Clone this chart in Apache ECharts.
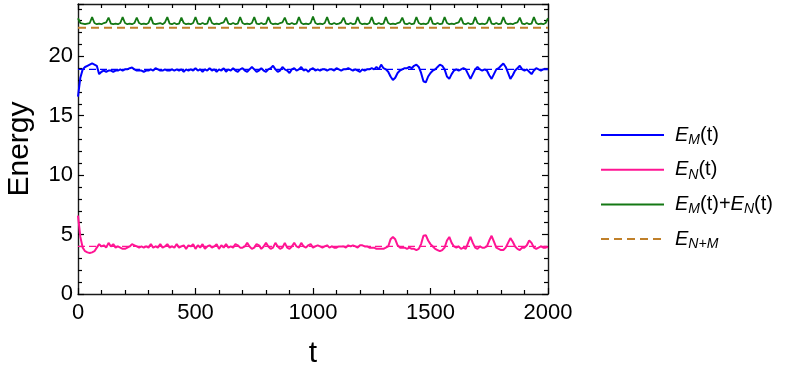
<!DOCTYPE html>
<html>
<head>
<meta charset="utf-8">
<script src="https://cdn.jsdelivr.net/npm/echarts@6/dist/echarts.min.js"></script>
<style>
html,body{margin:0;padding:0;background:#fff;}
#c{width:789px;height:375px;}
</style>
</head>
<body>
<div id="c"></div>
<script>
// sample step in t
var tStep = 10;
// E_M(t), one value every 10 time units from t=0 to t=2000
var eM = [
16.6,18.2,18.9,19.1,19.2,19.3,19.4,19.3,19.2,18.5,
18.7,18.8,18.7,18.8,18.8,18.7,18.8,18.8,18.9,18.8,
18.9,18.9,19.0,19.05,18.9,18.8,18.8,18.8,18.7,18.8,
18.8,18.9,18.8,19.0,18.9,18.8,18.8,18.9,18.8,18.8,
18.9,18.8,18.9,18.8,18.9,18.7,18.9,18.8,18.9,18.8,
19.0,18.8,18.9,18.7,18.9,18.8,19.0,18.8,18.9,18.7,
18.9,18.8,19.0,18.7,18.9,18.8,19.0,18.8,18.7,18.9,
19.0,18.8,18.7,18.9,19.1,18.9,18.7,18.8,19.0,18.8,
18.7,18.9,19.0,19.2,18.9,18.7,18.8,19.1,18.9,18.8,
18.6,18.9,19.0,18.8,18.9,19.1,18.8,18.9,18.7,18.9,
19.0,18.8,18.9,18.8,18.9,18.9,18.8,18.9,18.9,18.8,
19.0,18.9,18.8,18.9,18.9,19.0,18.9,18.8,18.9,18.8,
18.7,18.9,18.8,18.9,18.9,19.0,18.9,19.1,18.9,19.3,
19.0,18.9,18.7,18.3,18.0,18.2,18.6,18.8,18.9,19.0,
19.0,19.1,19.0,19.2,19.3,19.1,18.6,17.9,17.8,18.3,
18.6,18.8,18.9,19.1,19.3,19.2,18.9,18.3,18.1,18.5,
18.8,18.9,18.8,18.9,19.0,18.9,18.5,18.1,18.5,18.9,
19.1,18.9,18.8,18.9,18.8,18.4,18.1,18.5,18.9,19.0,
19.2,19.4,19.1,18.6,18.1,18.4,18.8,19.0,19.2,18.9,
18.8,18.9,18.7,18.5,18.8,19.0,18.9,18.8,18.9,18.9,
18.9
];
// E_N(t)
var eN = [
6.6,4.8,3.9,3.6,3.5,3.45,3.5,3.6,3.9,4.2,
4.0,4.1,3.9,4.3,4.0,4.2,3.9,4.0,3.9,3.8,
3.8,3.9,4.0,4.2,4.1,4.0,3.9,4.0,3.9,4.0,
3.9,4.2,3.9,4.0,3.9,4.2,3.9,4.0,4.2,3.9,
4.0,3.9,4.2,3.9,4.0,4.1,3.8,4.1,4.0,4.2,
3.8,4.1,3.9,4.2,3.8,4.0,4.1,3.9,4.0,4.2,
3.8,4.1,3.9,4.2,3.9,4.0,3.9,4.2,4.1,3.9,
3.9,4.0,4.3,4.0,3.8,3.9,4.2,4.1,3.8,4.0,
4.3,4.0,3.8,3.9,4.3,4.0,3.8,3.9,4.3,3.9,
3.8,4.0,4.3,4.0,3.9,4.3,4.0,3.9,4.1,4.2,
3.9,4.0,4.1,4.0,3.9,4.0,4.1,3.9,4.0,3.9,
3.9,4.0,4.0,4.0,3.9,4.1,4.0,4.1,4.0,3.9,
4.1,4.1,4.0,4.0,3.9,3.9,3.9,3.8,3.8,3.8,
3.8,3.9,4.0,4.6,4.8,4.6,4.1,3.9,3.9,3.9,
3.8,3.9,3.8,3.8,3.7,3.8,4.2,4.9,4.95,4.5,
4.2,4.0,3.8,3.7,3.6,3.7,3.9,4.5,4.8,4.3,
4.0,3.9,4.0,3.8,3.9,3.8,4.3,4.8,4.3,3.9,
3.8,4.0,3.9,3.9,4.0,4.5,4.9,4.4,3.9,3.8,
3.7,3.7,3.9,4.3,4.7,4.4,4.0,3.8,3.7,3.9,
3.9,4.1,4.5,4.3,3.9,3.8,3.9,4.0,3.9,3.9,
3.95
];
// E_M(t)+E_N(t)
var eSum = [
23.2,22.8,22.75,22.7,22.75,22.8,23.3,22.8,22.7,22.75,
22.7,22.8,22.85,23.25,22.75,22.7,22.75,22.7,22.8,23.3,
22.8,22.7,22.75,22.7,22.8,23.25,22.8,22.7,22.75,22.7,
22.8,23.3,22.75,22.7,22.75,22.8,22.7,22.85,23.3,22.75,
22.7,22.8,22.7,22.75,23.25,22.8,22.7,22.75,22.7,22.8,
23.3,22.75,22.7,22.8,22.7,22.75,23.3,22.8,22.7,22.75,
22.7,22.8,22.85,23.25,22.75,22.7,22.8,22.7,22.75,23.3,
22.8,22.7,22.75,22.7,22.8,23.3,22.75,22.7,22.8,22.7,
22.75,23.3,22.8,22.7,22.75,22.7,22.8,22.85,23.25,22.75,
22.7,22.8,22.7,22.75,23.3,22.8,22.7,22.75,22.7,22.8,
23.35,22.8,22.7,22.75,22.7,22.8,23.3,22.75,22.7,22.8,
22.7,22.75,22.85,23.25,22.75,22.7,22.8,22.7,22.75,23.3,
22.8,22.7,22.75,22.7,22.8,23.3,22.75,22.7,22.8,22.7,
22.75,23.3,22.8,22.7,22.75,22.7,22.8,22.85,23.25,22.75,
22.7,22.8,22.7,22.75,23.3,22.8,22.7,22.75,22.7,22.8,
23.3,22.75,22.7,22.8,22.7,22.75,23.3,22.8,22.7,22.75,
22.7,22.8,22.85,23.25,22.75,22.7,22.8,22.7,22.75,23.3,
22.8,22.7,22.75,22.7,22.8,23.3,22.75,22.7,22.8,22.7,
22.75,23.3,22.8,22.7,22.75,22.7,22.8,22.85,23.25,22.75,
22.7,22.8,22.7,22.75,23.3,22.8,22.7,22.75,22.7,22.8,
23.2
];
var eMmean = 18.9;
var eNmean = 4.0;
var eNM = 22.4;
var tRange = [0, 2000];
var xTicks = [0, 500, 1000, 1500, 2000];
var yTicks = [0, 5, 10, 15, 20];
var legendNames = ['E_M(t)', 'E_N(t)', 'E_M(t)+E_N(t)', 'E_N+M'];

function pairs(arr){ return arr.map(function(v,i){ return [i*tStep, v]; }); }
function flat(v){ return [[tRange[0], v],[tRange[1], v]]; }

var FONT = 'Liberation Sans, Arial, sans-serif';
var richStyles = {
  f: {fontFamily: FONT, fontSize: 20, fontStyle: 'italic', color:'#000', padding:[0,0,0,6]},
  e: {fontFamily: FONT, fontSize: 20, fontStyle: 'italic', color:'#000'},
  s: {fontFamily: FONT, fontSize: 14, fontStyle: 'italic', color:'#000', padding:[10,0,0,0]},
  n: {fontFamily: FONT, fontSize: 20, color:'#000'}
};
var legendRich = {
  'E_M(t)': '{f|E}{s|M}{n|(t)}',
  'E_N(t)': '{f|E}{s|N}{n|(t)}',
  'E_M(t)+E_N(t)': '{f|E}{s|M}{n|(t)+}{e|E}{s|N}{n|(t)}',
  'E_N+M': '{f|E}{s|N+M}'
};

var axisLine = {show:true, onZero:false, lineStyle:{color:'#1a1a1a', width:1.4}};
var tickStyle = {color:'#000', width:1.2};
function xAx(pos, showLabel){
  return {type:'value', position:pos, min:tRange[0], max:tRange[1], interval:500,
    axisLine:axisLine, axisTick:{show:true, inside:true, length:6, lineStyle:tickStyle},
    minorTick:{show:true, splitNumber:5, length:4, lineStyle:tickStyle},
    splitLine:{show:false},
    axisLabel:{show:showLabel, fontFamily:FONT, fontSize:22, color:'#000', margin:8,
      formatter:function(v){ return xTicks.indexOf(v)>=0 ? String(v) : ''; }},
    name: showLabel ? 't' : '', nameLocation:'middle', nameGap:45,
    nameTextStyle:{fontFamily:FONT, fontSize:30, color:'#000'}
  };
}
function yAx(pos, showLabel){
  return {type:'value', position:pos, min:0, max:24.4, interval:5,
    axisLine:axisLine, axisTick:{show:true, inside:true, length:6, lineStyle:tickStyle},
    minorTick:{show:true, splitNumber:5, length:4, lineStyle:tickStyle},
    splitLine:{show:false},
    axisLabel:{show:showLabel, fontFamily:FONT, fontSize:22, color:'#000', margin:5,
      formatter:function(v){ return yTicks.indexOf(v)>=0 ? String(v) : ''; }},
    name: showLabel ? 'Energy' : '', nameLocation:'middle', nameGap:43,
    nameTextStyle:{fontFamily:FONT, fontSize:30, color:'#000'}
  };
}

var chart = echarts.init(document.getElementById('c'), null, {renderer:'canvas'});
chart.setOption({
  animation:false,
  backgroundColor:'#fff',
  grid:{left:78, top:4, width:470, height:290, containLabel:false, outerBoundsMode:'none'},
  xAxis:[xAx('bottom', true), xAx('top', false)],
  yAxis:[yAx('left', true), yAx('right', false)],
  legend:{
    orient:'vertical', left:600, top:125, padding:0, itemWidth:63, itemHeight:14, itemGap:12.7,
    data:legendNames,
    itemStyle:{opacity:0},
    formatter:function(n){ return legendRich[n]; },
    textStyle:{rich:richStyles}
  },
  series:[
    {name:'meanM', type:'line', data:flat(eMmean), symbol:'none', silent:true,
      lineStyle:{color:'#0000ff', width:1.2, type:[7,4]}, z:1},
    {name:'meanN', type:'line', data:flat(eNmean), symbol:'none', silent:true,
      lineStyle:{color:'#ff1493', width:1.2, type:[7,4]}, z:1},
    {name:'E_M(t)', type:'line', data:pairs(eM), symbol:'none', color:'#0000ff',
      lineStyle:{color:'#0000ff', width:2}, z:3},
    {name:'E_N(t)', type:'line', data:pairs(eN), symbol:'none', color:'#ff1493',
      lineStyle:{color:'#ff1493', width:2}, z:3},
    {name:'E_M(t)+E_N(t)', type:'line', data:pairs(eSum), symbol:'none', color:'#147814',
      lineStyle:{color:'#147814', width:1.8}, z:3},
    {name:'E_N+M', type:'line', data:flat(eNM), symbol:'none', color:'#c0802a',
      lineStyle:{color:'#c0802a', width:2, type:[8,5]}, z:2}
  ]
});
</script>
</body>
</html>
